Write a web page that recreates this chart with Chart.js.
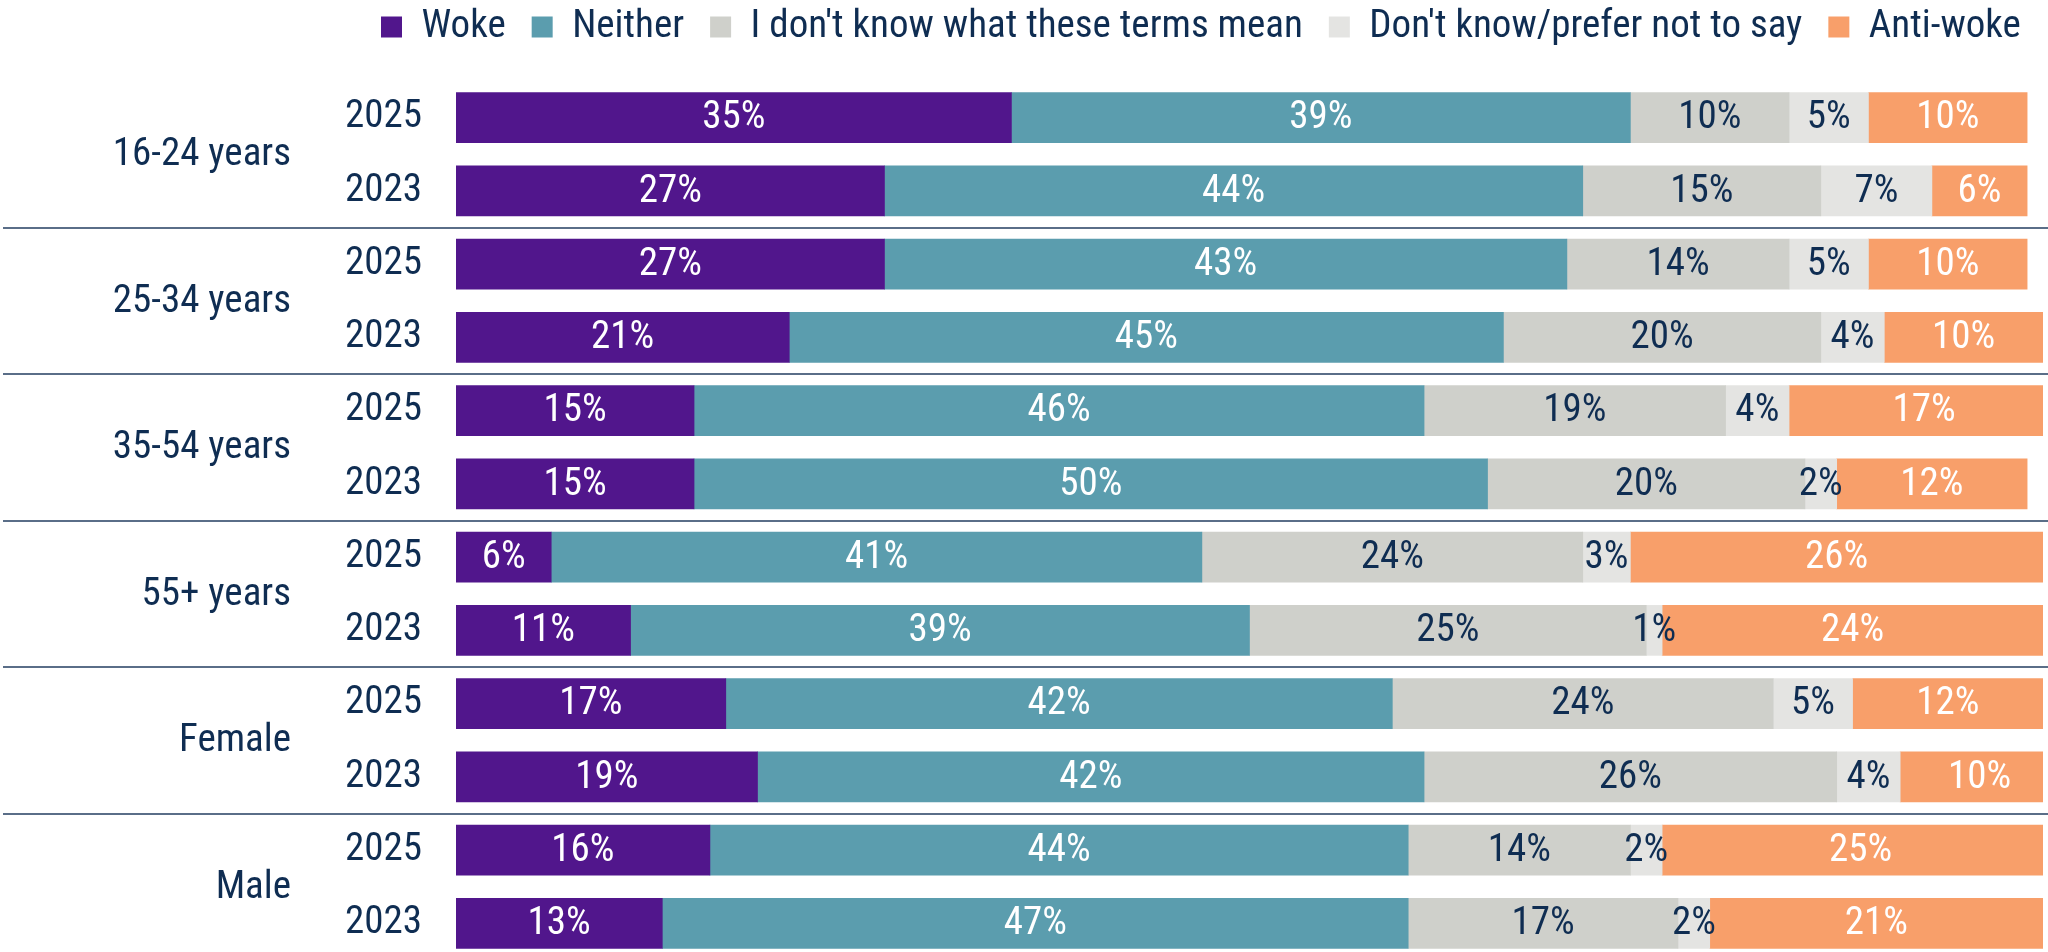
<!DOCTYPE html>
<html lang="en">
<head>
  <meta charset="UTF-8" />
  <title>Woke / anti-woke by age and gender</title>
  <script src="https://cdn.jsdelivr.net/npm/chart.js"></script>
  <style>
    html, body { margin: 0; padding: 0; background: #fff; overflow: hidden; }
    #wrap { width: 2048px; height: 960px; position: relative; }
  </style>
</head>
<body>
  <div id="wrap"><canvas id="chart"></canvas></div>

  <script>
    // rows: two survey years per group
    const groups = ["16-24 years", "25-34 years", "35-54 years", "55+ years", "Female", "Male"];
    const years = ["2025", "2023", "2025", "2023", "2025", "2023", "2025", "2023", "2025", "2023", "2025", "2023"];

    const woke        = [35, 27, 27, 21, 15, 15, 6, 11, 17, 19, 16, 13];
    const neither     = [39, 44, 43, 45, 46, 50, 41, 39, 42, 42, 44, 47];
    const termsUnsure = [10, 15, 14, 20, 19, 20, 24, 25, 24, 26, 14, 17];
    const preferNot   = [5, 7, 5, 4, 4, 2, 3, 1, 5, 4, 2, 2];
    const antiWoke    = [10, 6, 10, 10, 17, 12, 26, 24, 12, 10, 25, 21];

    const FONT = "'Roboto Condensed', sans-serif";
    const SIZE = 39;
    const NAVY = "#0f2d52";

    const series = [
      { label: "Woke", data: woke, color: "#51168c", text: "#ffffff" },
      { label: "Neither", data: neither, color: "#5b9dae", text: "#ffffff" },
      { label: "I don't know what these terms mean", data: termsUnsure, color: "#cfd0cb", text: NAVY },
      { label: "Don't know/prefer not to say", data: preferNot, color: "#e4e4e2", text: NAVY },
      { label: "Anti-woke", data: antiWoke, color: "#f89f6a", text: "#ffffff" }
    ];

    // legend row starts above the bars' left edge, tucked close to the top
    const legendNudge = {
      id: "legendNudge",
      afterLayout(chart) {
        const lg = chart.legend;
        lg.top -= 18.5;
        lg.left += 355; lg.right += 355;
      }
    };

    // percentage text centred on every segment
    const segmentLabels = {
      id: "segmentLabels",
      afterDatasetsDraw(chart) {
        const ctx = chart.ctx;
        ctx.save();
        ctx.font = SIZE + "px " + FONT;
        ctx.textAlign = "center";
        ctx.textBaseline = "middle";
        chart.data.datasets.forEach((ds, di) => {
          chart.getDatasetMeta(di).data.forEach((bar, i) => {
            const v = ds.data[i];
            if (!v) return;
            ctx.fillStyle = series[di].text;
            ctx.fillText(v + "%", (bar.x + bar.base) / 2, bar.y + 1);
          });
        });
        ctx.restore();
      }
    };

    // group names and the rules between groups
    const groupLabels = {
      id: "groupLabels",
      afterDraw(chart) {
        const ctx = chart.ctx;
        const y = chart.scales.y;
        ctx.save();
        ctx.font = SIZE + "px " + FONT;
        ctx.fillStyle = NAVY;
        ctx.textAlign = "right";
        ctx.textBaseline = "middle";
        groups.forEach((g, gi) => {
          const a = y.getPixelForValue(gi * 2);
          const b = y.getPixelForValue(gi * 2 + 1);
          ctx.fillText(g, 291, (a + b) / 2 + 1);
          if (gi < groups.length - 1) {
            const next = y.getPixelForValue(gi * 2 + 2);
            const ly = Math.round((b + next) / 2);
            ctx.strokeStyle = "#5a6e88";
            ctx.lineWidth = 2;
            ctx.beginPath();
            ctx.moveTo(3, ly);
            ctx.lineTo(chart.width, ly);
            ctx.stroke();
          }
        });
        ctx.restore();
      }
    };

    new Chart(document.getElementById("chart"), {
      type: "bar",
      data: {
        labels: years,
        datasets: series.map(s => ({
          label: s.label,
          data: s.data,
          backgroundColor: s.color,
          borderWidth: 0,
          barThickness: 50
        }))
      },
      options: {
        indexAxis: "y",
        responsive: true,
        maintainAspectRatio: false,
        animation: false,
        events: [],
        layout: { padding: { top: 0, right: 5, left: 0, bottom: 0 } },
        scales: {
          x: {
            stacked: true,
            min: 0,
            max: 100,
            position: "top",
            ticks: { display: false },
            grid: { display: false, drawTicks: false },
            border: { display: false },
            afterFit(scale) { scale.height = 6; }
          },
          y: {
            stacked: true,
            grid: { display: false, drawTicks: false },
            border: { display: false },
            ticks: { color: NAVY, padding: 34, font: { family: FONT, size: SIZE } },
            afterFit(scale) {
              scale.width = 456;
              scale.paddingTop = 0;
              scale.paddingBottom = 0;
            }
          }
        },
        plugins: {
          legend: {
            position: "top",
            align: "start",
            labels: {
              color: NAVY,
              boxWidth: 21,
              boxHeight: 21,
              padding: 26,
              font: { family: FONT, size: SIZE }
            }
          },
          tooltip: { enabled: false }
        }
      },
      plugins: [legendNudge, segmentLabels, groupLabels]
    });
  </script>
</body>
</html>
